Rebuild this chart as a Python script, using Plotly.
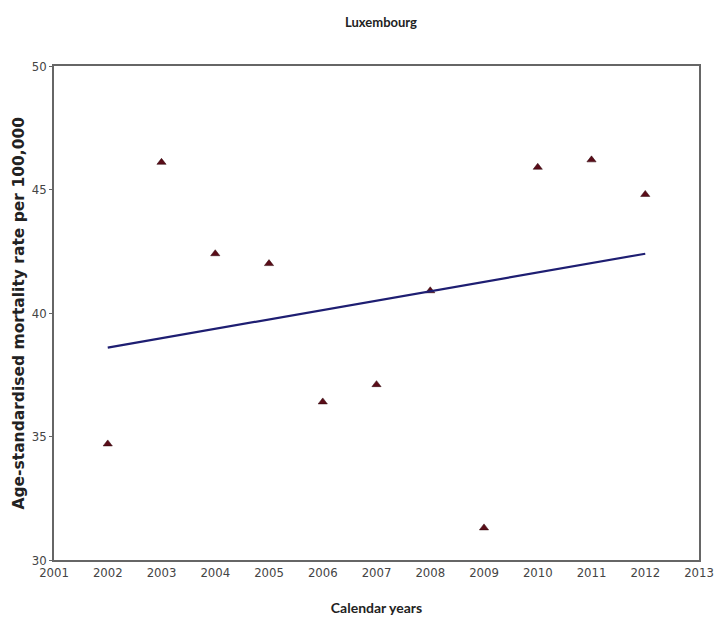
import plotly.graph_objects as go

years = [2002, 2003, 2004, 2005, 2006, 2007, 2008, 2009, 2010, 2011, 2012]
rates = [34.7, 46.1, 42.4, 42.0, 36.4, 37.1, 40.9, 31.3, 45.9, 46.2, 44.8]
trend_years = [2002, 2012]
trend_rates = [38.6, 42.4]
x_ticks = list(range(2001, 2014))
y_ticks = [30, 35, 40, 45, 50]

tick_font = dict(family="DejaVu Sans Condensed, Liberation Sans Narrow, Arial Narrow, sans-serif",
                 size=13, color="#444")

fig = go.Figure()
fig.add_trace(go.Scatter(x=years, y=rates, mode="markers",
                         marker=dict(symbol="triangle-up", size=8, color="#5a0c18",
                                     line=dict(color="#2a0508", width=0.5)),
                         showlegend=False))
fig.add_trace(go.Scatter(x=trend_years, y=trend_rates, mode="lines",
                         line=dict(color="#1e1e72", width=2.2), showlegend=False))

fig.update_layout(
    width=718, height=618,
    paper_bgcolor="white", plot_bgcolor="white",
    margin=dict(l=46, r=16, t=58, b=65),
    title=dict(text="<b>Luxembourg</b>", x=0.5195, xanchor="center", y=0.977, yanchor="middle",
               font=dict(family="Lato, sans-serif", size=13, color="#222")),
    xaxis=dict(range=[2001, 2013], tickvals=x_ticks, ticktext=[str(v) for v in x_ticks],
               showgrid=False, zeroline=False, showline=True, linecolor="#666", linewidth=1.5,
               mirror=True, ticks="", tickfont=tick_font,
               title=dict(text="<b>Calendar years</b>", standoff=24,
                          font=dict(family="Lato, sans-serif", size=14, color="#222"))),
    yaxis=dict(range=[30, 50], tickvals=y_ticks, showgrid=False, zeroline=False,
               showline=True, linecolor="#666", linewidth=1.5, mirror=True,
               ticks="outside", ticklen=3, tickcolor="#666", tickfont=tick_font),
    annotations=[dict(text="<b>Age-standardised mortality rate per 100,000</b>",
                      xref="paper", yref="paper", x=-0.055, y=0.5, textangle=-90,
                      showarrow=False, xanchor="center", yanchor="middle",
                      font=dict(family="DejaVu Sans, sans-serif", size=15.5, color="#222"))],
)

fig.write_html("out.html")
